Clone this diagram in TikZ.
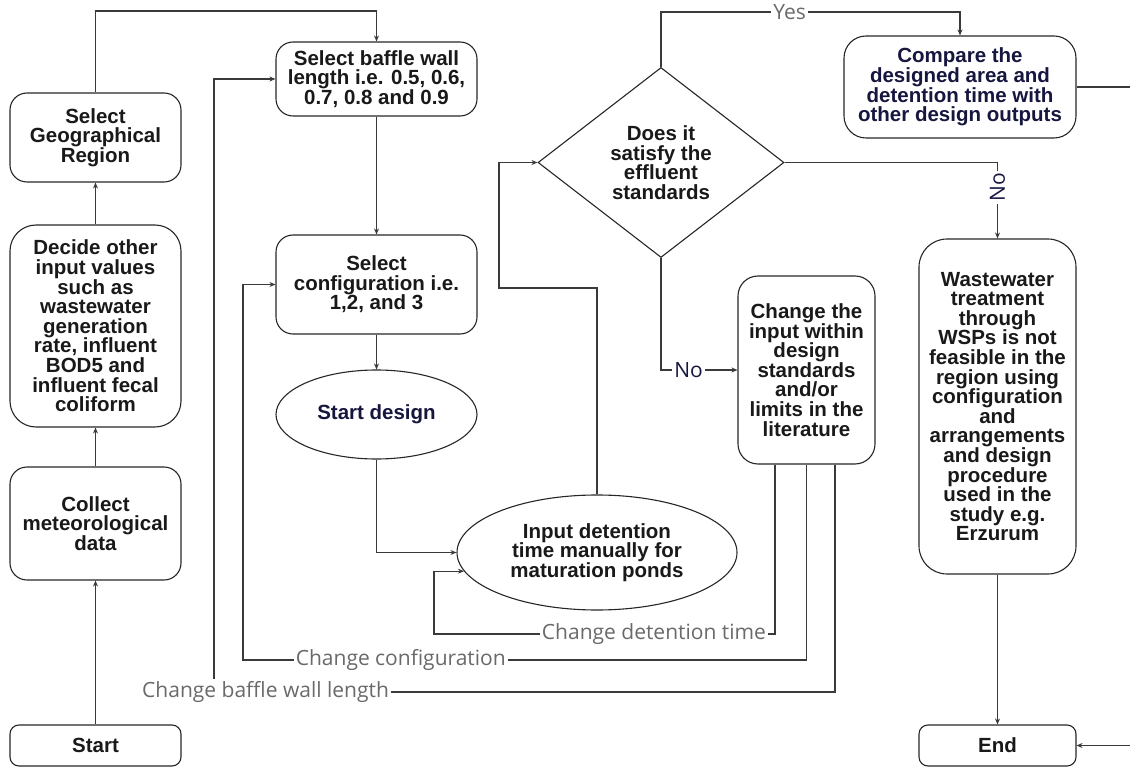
\documentclass[tikz,border=0pt]{standalone}
\usepackage{fontspec}
\setmainfont{Liberation Sans}
\newfontfamily\lblfont{Open Sans}
\usetikzlibrary{shapes.geometric,arrows.meta,calc}
\definecolor{linec}{HTML}{3A3A3A}
\definecolor{navy}{HTML}{16163F}
\definecolor{lblc}{HTML}{6A6A6A}
\begin{document}
\begin{tikzpicture}[x=1pt,y=-1pt,
  txt/.style={font=\fontsize{20.5}{19.6}\selectfont\bfseries, text=black!90},
  box/.style={txt, draw=black!85, line width=1.1pt, rounded corners=17pt, align=center, inner sep=0pt},
  ell/.style={txt, draw=black!85, line width=1.1pt, ellipse, align=center, inner sep=0pt},
  dia/.style={txt, draw=black!85, line width=1.1pt, diamond, align=center, inner sep=0pt,
    minimum width=246pt, minimum height=190pt},
  arr/.style={draw=linec, line width=1.1pt, -{Stealth[length=6pt,width=5pt]}},
  lbl/.style={font=\lblfont\fontsize{21}{24}\selectfont, text=lblc, fill=white, inner sep=2pt},
]
\useasboundingbox (0,0) rectangle (1130,767);

% nodes
\node[box, minimum width=171pt, minimum height=41pt, rounded corners=9pt] (start) at (95.5,745.5) {Start};
\node[box, minimum width=171pt, minimum height=113pt] (collect) at (95.5,523.5) {Collect\\meteorological\\data};
\node[box, minimum width=171pt, minimum height=202pt, rounded corners=26pt] (decide) at (95.5,326) {Decide other\\input values\\such as\\wastewater\\generation\\rate, influent\\BOD5 and\\influent fecal\\coliform};
\node[box, minimum width=171pt, minimum height=89pt] (geo) at (95.5,137.5) {Select\\Geographical\\Region};
\node[box, minimum width=201pt, minimum height=74pt] (baffle) at (376.5,79) {Select baffle wall\\length i.e. 0.5, 0.6,\\0.7, 0.8 and 0.9};
\node[box, minimum width=201pt, minimum height=99pt] (config) at (376.5,284.5) {Select\\configuration i.e.\\1,2, and 3};
\node[ell, minimum width=201pt, minimum height=89pt, text=navy] (sd) at (376.5,414.5) {Start design};
\node[ell, minimum width=280pt, minimum height=115pt] (input) at (597,552.5) {Input detention\\time manually for\\maturation ponds};
\node[dia] (dia) at (661,162.5) {Does it\\satisfy the\\effluent\\standards};
\node[box, minimum width=232pt, minimum height=102pt, rounded corners=22pt, text=navy] (compare) at (960,87) {Compare the\\designed area and\\detention time with\\other design outputs};
\node[box, minimum width=137pt, minimum height=188pt, rounded corners=20pt] (change) at (806.5,370) {Change the\\input within\\design\\standards\\and/or\\limits in the\\literature};
\node[box, minimum width=157pt, minimum height=335pt, rounded corners=28pt] (ww) at (997.5,406.5) {Wastewater\\treatment\\through\\WSPs is not\\feasible in the\\region using\\configuration\\and\\arrangements\\and design\\procedure\\used in the\\study e.g.\\Erzurum};
\node[box, minimum width=157pt, minimum height=41pt, rounded corners=9pt] (end) at (997.5,745.5) {End};

% helper coordinates
\coordinate (ytop) at (0,11);
\coordinate (yesy) at (0,12);
\coordinate (loopc) at (499,288);
\coordinate (rx) at (1134,0);
\coordinate (ca) at ([xshift=-31.5pt]change.south);
\coordinate (cb) at (change.south);
\coordinate (cc) at ([xshift=28.5pt]change.south);
\coordinate (dt) at (434,634);
\coordinate (cf) at (243,660);
\coordinate (bw) at (214,692);

% connectors
\draw[arr] (start.north) -- (collect.south);
\draw[arr] (collect.north) -- (decide.south);
\draw[arr] (decide.north) -- (geo.south);
\draw[arr] (geo.north) -- (geo.north |- ytop) -| (baffle.north);
\draw[arr] (baffle.south) -- (config.north);
\draw[arr] (config.south) -- (sd.north);
\draw[arr] (sd.south) |- (input.west);
\draw[arr] (input.north) |- (loopc) |- (dia.west);
\draw[arr] (dia.north) -- (dia.north |- yesy) -- node[lbl, pos=0.43]{Yes} (compare.north |- yesy) -- (compare.north);
\draw[arr] (dia.east) -- (dia.east -| ww.north) -- node[lbl, rotate=90, text=navy, pos=0.33]{No} (ww.north);
\draw[arr] (dia.south) -- (dia.south |- change.west) -- node[lbl, text=navy, pos=0.36]{No} (change.west);
\draw[arr] (compare.east) -- (compare.east -| rx) |- (end.east);
\draw[arr] (ww.south) -- (end.north);
\draw[arr] (ca) -- (ca |- dt) -- node[lbl, pos=0.355]{Change detention time} (dt) |- (input.188);
\draw[arr] (cb) -- (cb |- cf) -- node[lbl, pos=0.72]{Change configuration} (cf) |- (config.west);
\draw[arr] (cc) -- (cc |- bw) -- node[lbl, pos=0.917]{Change baffle wall length} (bw) |- (baffle.west);
\end{tikzpicture}
\end{document}
